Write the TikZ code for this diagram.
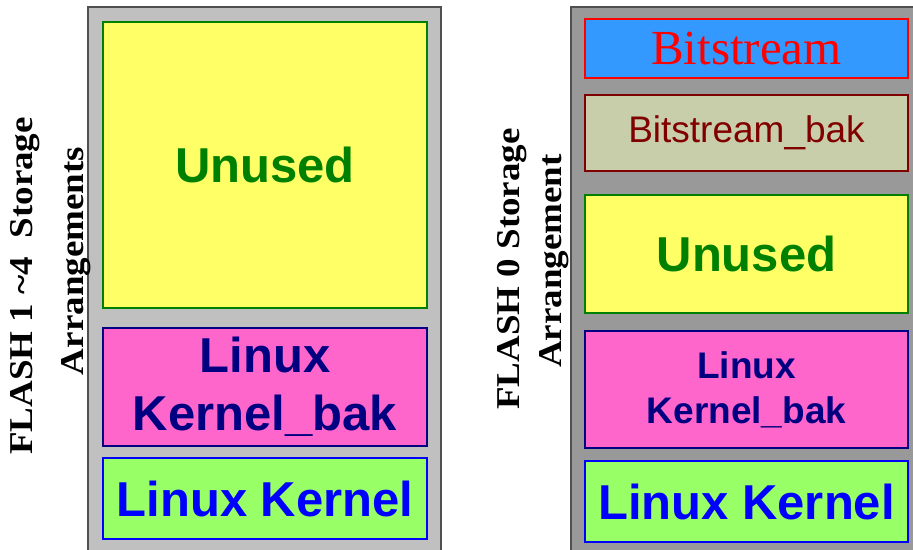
\documentclass[tikz,border=0pt]{standalone}
\usepackage{fontspec}
\setmainfont{Liberation Serif}
\setsansfont{Liberation Sans}
\definecolor{panelA}{HTML}{C0C0C0}
\definecolor{panelB}{HTML}{999999}
\definecolor{frameC}{HTML}{505050}
\definecolor{unusedFill}{HTML}{FFFF66}
\definecolor{unusedText}{HTML}{008000}
\definecolor{bakFill}{HTML}{FF66CC}
\definecolor{bakText}{HTML}{000080}
\definecolor{kernFill}{HTML}{99FF66}
\definecolor{kernText}{HTML}{0000FF}
\definecolor{bitsFill}{HTML}{3399FF}
\definecolor{bitsText}{HTML}{FF0000}
\definecolor{bitsbakFill}{HTML}{C9CEAA}
\definecolor{bitsbakText}{HTML}{800000}
\tikzset{
  panel/.style={draw=frameC, line width=1.5pt},
  part/.style={rectangle, draw, line width=1.2pt, inner sep=0pt, align=center},
  bigsans/.style={font=\sffamily\bfseries\fontsize{49}{58}\selectfont},
  midsans/.style={font=\sffamily\bfseries\fontsize{37}{45}\selectfont},
  unusedpart/.style={part, fill=unusedFill, draw=unusedText, text=unusedText},
  bakpart/.style={part, fill=bakFill, draw=bakText, text=bakText},
  kernpart/.style={part, fill=kernFill, draw=kernText, text=kernText},
  sidelabel/.style={rotate=90, font=\rmfamily\bfseries\fontsize{37}{44}\selectfont,
    text=black, inner sep=0pt},
}
\begin{document}
\begin{tikzpicture}[x=1pt, y=-1pt]
  \useasboundingbox (0,0) rectangle (913,549);
  \clip (0,0) rectangle (913,549);

  % storage panels
  \draw[panel, fill=panelA] (88,7) rectangle (441,570);
  \draw[panel, fill=panelB] (571,7) rectangle (930,570);

  % FLASH 1~4 partitions
  \node[unusedpart, bigsans, minimum width=324pt, minimum height=286pt] (lunused) at (265,165)
    {Unused};
  \node[bakpart, bigsans, minimum width=324pt, minimum height=118pt] (lkbak) at (265,387)
    {Linux\\Kernel\_bak};
  \node[kernpart, bigsans, minimum width=324pt, minimum height=81pt] (lkern) at (265,498.5)
    {Linux Kernel};

  % FLASH 0 partitions
  \node[part, fill=bitsFill, draw=bitsText, text=bitsText,
    font=\rmfamily\fontsize{49}{55}\selectfont,
    minimum width=323pt, minimum height=59pt] (bits) at (746.5,48.5)
    {Bitstream};
  \node[part, fill=bitsbakFill, draw=bitsbakText, text=bitsbakText,
    font=\sffamily\fontsize{37}{45}\selectfont,
    minimum width=323pt, minimum height=76pt] (bitsbak) at (746.5,133)
    {Bitstream\_bak};
  \node[unusedpart, bigsans, minimum width=323pt, minimum height=118pt] (runused) at (746.5,254)
    {Unused};
  \node[bakpart, midsans, minimum width=323pt, minimum height=117pt] (rkbak) at (746.5,389.5)
    {Linux\\Kernel\_bak};
  \node[kernpart, bigsans, minimum width=323pt, minimum height=81pt] (rkern) at (746.5,501.5)
    {Linux Kernel};

  % side captions
  \node[sidelabel] (lcap1) at (25,286) {\scalebox{1}[0.9]{FLASH 1 \textasciitilde4\ \ Storage}};
  \node[sidelabel] (lcap2) at (76,261) {\scalebox{1}[0.9]{Arrangements}};
  \node[sidelabel] (rcap1) at (512,269) {\scalebox{1}[0.9]{FLASH 0 Storage}};
  \node[sidelabel] (rcap2) at (554,261) {\scalebox{1}[0.9]{Arrangement}};
\end{tikzpicture}
\end{document}
